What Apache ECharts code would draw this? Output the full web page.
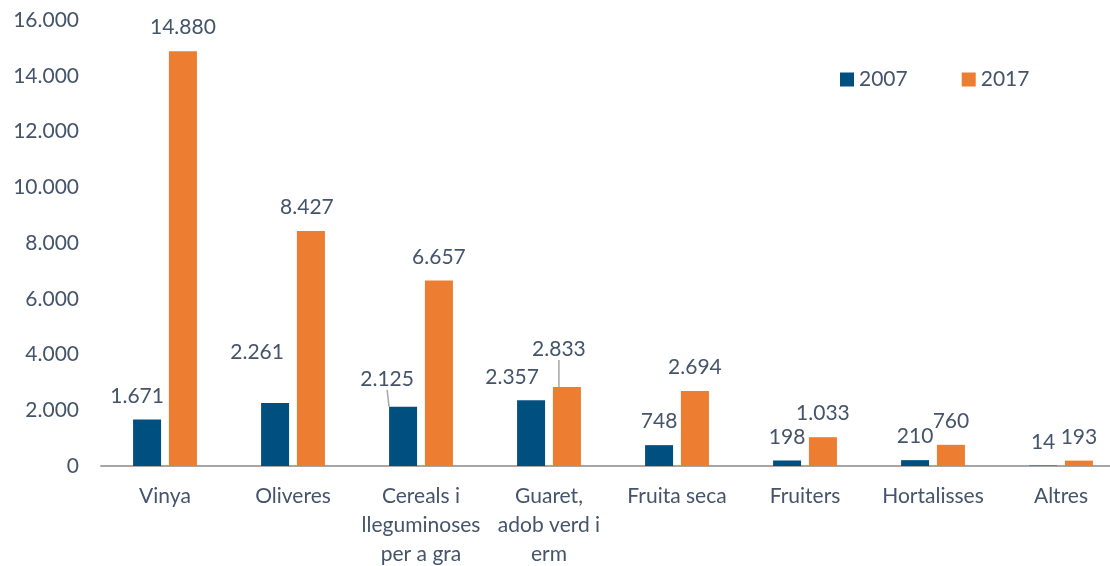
<!DOCTYPE html>
<html>
<head>
<meta charset="utf-8">
<script src="https://cdn.jsdelivr.net/npm/echarts@6/dist/echarts.min.js"></script>
<style>
  html, body { margin: 0; padding: 0; background: #fff; }
  #chart { width: 1110px; height: 566px; }
</style>
</head>
<body>
<div id="chart"></div>
<script>
const categories = ['Vinya', 'Oliveres', 'Cereals i\nlleguminoses\nper a gra', 'Guaret,\nadob verd i\nerm', 'Fruita seca', 'Fruiters', 'Hortalisses', 'Altres'];
const values2007 = [1671, 2261, 2125, 2357, 748, 198, 210, 14];
const values2017 = [14880, 8427, 6657, 2833, 2694, 1033, 760, 193];
const yTicks = [0, 2000, 4000, 6000, 8000, 10000, 12000, 14000, 16000];

const textColor = '#44546a';
const fontFamily = 'Lato, "Open Sans", sans-serif';

// labels that were moved by hand in the original
const moved2007 = { 0: [-10, 0], 1: [-18, -27], 2: [-16, -4, true], 3: [-19, 0] };
const moved2017 = { 1: [-4, 0], 3: [-8, -14, true] };

function fmt(v) {
  return String(v).replace(/\B(?=(\d{3})+(?!\d))/g, '.');
}

function buildData(values, moved) {
  return values.map((v, i) => {
    const m = moved[i];
    return {
      value: v,
      labelLine: { show: !!(m && m[2]) }
    };
  });
}

function layoutFor(moved) {
  return function (params) {
    const m = moved[params.dataIndex];
    if (!m) return {};
    return { dx: m[0], dy: m[1] };
  };
}

const chart = echarts.init(document.getElementById('chart'));

const labelStyle = {
  show: true,
  position: 'top',
  distance: 13,
  color: textColor,
  fontFamily: fontFamily,
  fontSize: 21,
  formatter: p => fmt(p.value)
};

chart.setOption({
  animation: false,
  textStyle: { fontFamily: fontFamily },
  legend: {
    left: 835,
    top: 64,
    itemWidth: 14,
    itemHeight: 14,
    itemGap: 54,
    icon: 'rect',
    textStyle: { color: textColor, fontSize: 21, fontFamily: fontFamily },
    data: ['2007', '2017']
  },
  grid: { left: 101, right: -15, top: 20, bottom: 100, outerBoundsMode: 'none', containLabel: false },
  xAxis: {
    type: 'category',
    data: categories,
    axisLine: { lineStyle: { color: '#a6a6a6', width: 2 } },
    axisTick: { show: false },
    axisLabel: {
      color: textColor,
      fontSize: 21,
      fontFamily: fontFamily,
      margin: 16,
      lineHeight: 29,
      interval: 0
    }
  },
  yAxis: {
    type: 'value',
    min: yTicks[0],
    max: yTicks[yTicks.length - 1],
    interval: 2000,
    splitLine: { show: false },
    axisLine: { show: false },
    axisTick: { show: false },
    axisLabel: {
      color: textColor,
      fontSize: 21,
      fontFamily: fontFamily,
      margin: 22,
      formatter: v => fmt(v)
    }
  },
  series: [
    {
      name: '2007',
      type: 'bar',
      barWidth: 28,
      barGap: '28%',
      itemStyle: { color: '#00507f' },
      label: labelStyle,
      labelLine: { show: false, lineStyle: { color: '#a6a6a6', width: 1.5 } },
      labelLayout: layoutFor(moved2007),
      data: buildData(values2007, moved2007)
    },
    {
      name: '2017',
      type: 'bar',
      barWidth: 28,
      itemStyle: { color: '#ed7d31' },
      label: labelStyle,
      labelLine: { show: false, lineStyle: { color: '#a6a6a6', width: 1.5 } },
      labelLayout: layoutFor(moved2017),
      data: buildData(values2017, moved2017)
    }
  ]
});
</script>
</body>
</html>
